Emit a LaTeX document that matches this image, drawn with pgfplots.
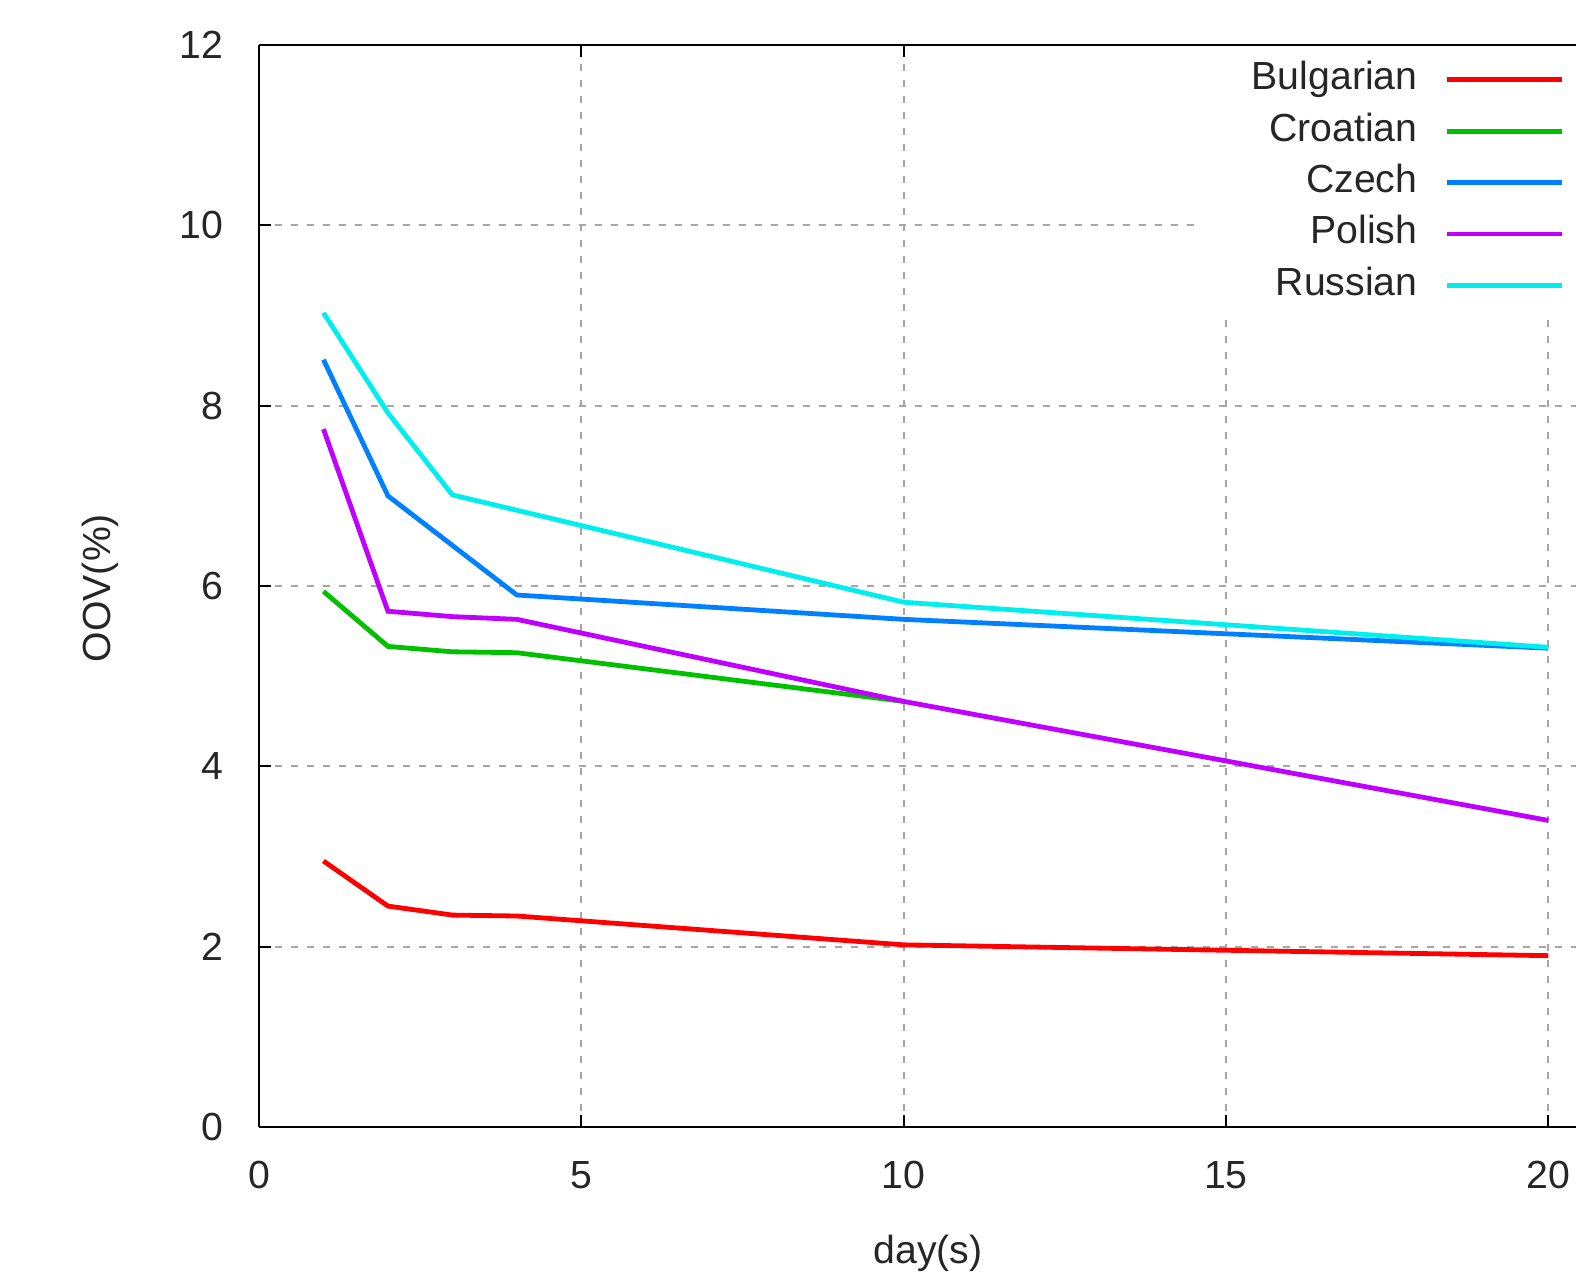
\documentclass[border=0pt]{standalone}
\usepackage{pgfplots}
\pgfplotsset{compat=1.18}
\usepackage{fontspec}
\setmainfont{Liberation Sans}
\definecolor{gpred}{HTML}{FF0000}
\definecolor{gpgreen}{HTML}{00C000}
\definecolor{gpblue}{HTML}{0080FF}
\definecolor{gppurple}{HTML}{C000FF}
\definecolor{gpcyan}{HTML}{00EEEE}
\begin{document}
\begin{tikzpicture}
\begin{axis}[
  at={(0,0)}, anchor=south west,
  scale only axis,
  width=329.25pt, height=270.5pt,
  xmin=0, xmax=20.43, ymin=0, ymax=12,
  xtick={0,5,10,15,20}, ytick={0,2,4,6,8,10,12},
  axis x line*=box, axis y line*=left,
  axis line style={line width=0.5pt, black},
  tick align=inside, major tick length=3pt,
  tick style={line width=0.5pt, black},
  grid=major,
  major grid style={black!35, line width=0.5pt, dash pattern=on 1.75pt off 2.25pt},
  font=\fontsize{9.8pt}{11pt}\selectfont,
  /pgf/number format/assume math mode=true,
  tick label style={font=\fontsize{9.8pt}{11pt}\selectfont, text=black!85},
  xticklabel style={anchor=north, yshift=-5pt},
  yticklabel style={anchor=east, xshift=-5.5pt},
  xlabel={day(s)}, ylabel={OOV(\%)},
  every axis x label/.style={at={(axis description cs:0.508,0)}, anchor=center, yshift=-31.5pt, font=\fontsize{9.8pt}{11pt}\selectfont, text=black!85},
  every axis y label/.style={at={(axis description cs:-0.1203,0.498)}, anchor=center, rotate=90, font=\fontsize{9.8pt}{11pt}\selectfont, text=black!85},
  legend plot pos=right,
  legend cell align=right,
  legend image code/.code={\draw[#1] (0pt,0pt) -- (28.75pt,0pt);},
  legend style={at={(1,1)}, anchor=north east, xshift=4pt, draw=none, fill=white,
    inner xsep=6.75pt, inner ysep=3.5pt, row sep=2.85pt, column sep=6.75pt,
    font=\fontsize{9.8pt}{11pt}\selectfont,
    nodes={inner sep=0pt, text height=7.5pt, text depth=2.5pt, text=black!85}},
  every axis plot/.append style={line width=1.2pt},
]
\addplot[gpred] coordinates {(1,2.95) (2,2.45) (3,2.35) (4,2.34) (10,2.02) (20,1.90)};
\addlegendentry{\makebox[48pt][r]{Bulgarian}}
\addplot[gpgreen] coordinates {(1,5.94) (2,5.33) (3,5.27) (4,5.26) (10,4.72)};
\addlegendentry{Croatian}
\addplot[gpblue] coordinates {(1,8.51) (2,7.00) (4,5.90) (10,5.63) (20,5.31)};
\addlegendentry{Czech}
\addplot[gppurple] coordinates {(1,7.74) (2,5.72) (3,5.66) (4,5.63) (10,4.72) (20,3.40)};
\addlegendentry{Polish}
\addplot[gpcyan] coordinates {(1,9.03) (2,7.92) (3,7.01) (10,5.82) (20,5.32)};
\addlegendentry{Russian}
\end{axis}
\pgfresetboundingbox
\path[use as bounding box] (-64.75pt,-39.25pt) rectangle (329.25pt,281.75pt);
\end{tikzpicture}
\end{document}
